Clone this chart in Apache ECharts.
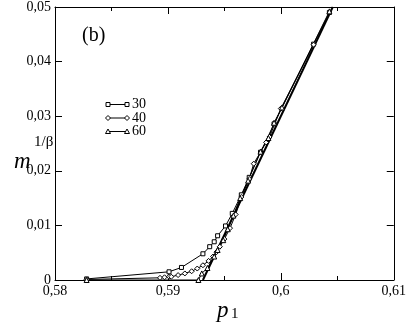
<!DOCTYPE html>
<html>
<head>
<meta charset="utf-8">
<script src="https://cdn.jsdelivr.net/npm/echarts@6/dist/echarts.min.js"></script>
<style>
  html, body { margin: 0; padding: 0; background: #fff; }
  #chart { width: 409px; height: 326px; }
</style>
</head>
<body>
<div id="chart"></div>
<script>
// values
const p30 = [0.5828, 0.5901, 0.5912, 0.5931, 0.5937, 0.5941, 0.5944, 0.5951, 0.5957, 0.5965, 0.5972, 0.5982, 0.5994, 0.6029, 0.6043]
const m30 = [0.0002, 0.0015, 0.0023, 0.0048, 0.0061, 0.0070, 0.0081, 0.0099, 0.0122, 0.0156, 0.0188, 0.0234, 0.0286, 0.0432, 0.0490]

const p40 = [0.5828, 0.5893, 0.5897, 0.5901, 0.5903, 0.5909, 0.5915, 0.5921, 0.5926, 0.5931, 0.5936, 0.5940, 0.5943, 0.5946, 0.5950, 0.5955, 0.5960, 0.5965, 0.5972, 0.5976, 0.5987, 0.5990, 0.6000, 0.6029]
const m40 = [0.0001, 0.0004, 0.0005, 0.0006, 0.0006, 0.0009, 0.0012, 0.0016, 0.0021, 0.0027, 0.0035, 0.0043, 0.0051, 0.0061, 0.0075, 0.0095, 0.0120, 0.0152, 0.0185, 0.0213, 0.0252, 0.0262, 0.0314, 0.0431]

const p60 = [0.5828, 0.5927, 0.5930, 0.5935, 0.5941, 0.5944, 0.5949, 0.5953, 0.5958, 0.5964, 0.5971, 0.5982, 0.5989, 0.5994, 0.6001, 0.6043]
const m60 = [0, 0, 0.0012, 0.0022, 0.0043, 0.0055, 0.0073, 0.0093, 0.0118, 0.0150, 0.0182, 0.0235, 0.0260, 0.0288, 0.0316, 0.0492]

// straight line through the collapse
const fitP = [0.5931, 0.6046]
const fitM = [0, 0.05]

const legendNames = ['30', '40', '60']

const FONT = '"Liberation Serif", "DejaVu Serif", serif'

const zip = (xs, ys) => xs.map((x, i) => [x, ys[i]])
const fmt = v => v === 0 ? '0' : String(+v.toFixed(3)).replace('.', ',')

const chart = echarts.init(document.getElementById('chart'))

const xBase = {
  type: 'value',
  min: 0.58,
  max: 0.61,
  interval: 0.01,
  splitLine: { show: false },
  axisLine: { show: true, onZero: false, lineStyle: { color: '#000', width: 1 } },
  axisTick: { show: true, inside: true, length: 7, lineStyle: { color: '#000' } },
  minorTick: { show: true, splitNumber: 2, length: 4, lineStyle: { color: '#000' } }
}
const yBase = {
  type: 'value',
  min: 0,
  max: 0.05,
  interval: 0.01,
  splitLine: { show: false },
  axisLine: { show: true, onZero: false, lineStyle: { color: '#000', width: 1 } },
  axisTick: { show: true, inside: true, length: 7, lineStyle: { color: '#000' } }
}

const lineSeries = (name, xs, ys, symbol, size) => ({
  name: name,
  type: 'line',
  data: zip(xs, ys),
  symbol: symbol,
  symbolSize: size,
  showAllSymbol: true,
  lineStyle: { color: '#000', width: 1 },
  itemStyle: { color: '#fff', borderColor: '#000', borderWidth: 1 },
  animation: false
})

// legend drawn by hand: line with a marker at each end
const legendSymbols = [
  { type: 'rect', shape: { x: -2, y: -2, width: 4, height: 4 } },
  { type: 'polygon', shape: { points: [[0, -2.5], [2.5, 0], [0, 2.5], [-2.5, 0]] } },
  { type: 'polygon', shape: { points: [[0, -2.5], [2.5, 2], [-2.5, 2]] } }
]
const legendGraphic = []
legendNames.forEach((n, i) => {
  const y = 104.5 + i * 13.5
  legendGraphic.push({ type: 'line', shape: { x1: 108, y1: y, x2: 127, y2: y }, style: { stroke: '#000', lineWidth: 1 } })
  ;[108, 127].forEach(x => {
    const s = legendSymbols[i]
    legendGraphic.push({ type: s.type, x: x, y: y, shape: s.shape, style: { fill: '#fff', stroke: '#000', lineWidth: 1 } })
  })
  legendGraphic.push({ type: 'text', x: 132, y: y, style: { text: n, font: '14px ' + FONT, fill: '#000', verticalAlign: 'middle' } })
})

const option = {
  animation: false,
  backgroundColor: '#fff',
  grid: { left: 55, right: 11, top: 6, bottom: 46, containLabel: false },
  xAxis: [
    Object.assign({}, xBase, {
      position: 'bottom',
      axisLabel: { show: true, color: '#000', fontSize: 14, fontFamily: FONT, margin: 4, formatter: fmt }
    }),
    Object.assign({}, xBase, { position: 'top', axisLabel: { show: false } })
  ],
  yAxis: [
    Object.assign({}, yBase, {
      position: 'left',
      axisLabel: { show: true, color: '#000', fontSize: 14, fontFamily: FONT, margin: 4, formatter: fmt }
    }),
    Object.assign({}, yBase, { position: 'right', axisLabel: { show: false } })
  ],
  series: [
    {
      name: 'fit',
      type: 'line',
      data: zip(fitP, fitM),
      symbol: 'none',
      lineStyle: { color: '#000', width: 2 },
      z: 1
    },
    lineSeries('30', p30, m30, 'rect', 4),
    lineSeries('40', p40, m40, 'diamond', 5),
    lineSeries('60', p60, m60, 'triangle', 5)
  ],
  graphic: [
    { type: 'text', left: 82, top: 26, style: { text: '(b)', font: '20px ' + FONT, fill: '#000' } },
    { type: 'text', x: 14, y: 150, style: { text: 'm', font: 'italic 23px ' + FONT, fill: '#000' } },
    { type: 'text', x: 34, y: 135, style: { text: '1/β', font: '15px ' + FONT, fill: '#000' } },
    { type: 'text', x: 217, y: 299, style: { text: 'p', font: 'italic 23px ' + FONT, fill: '#000' } },
    { type: 'text', x: 231, y: 307, style: { text: '1', font: '15px ' + FONT, fill: '#000' } }
  ].concat(legendGraphic)
}

chart.setOption(option)
</script>
</body>
</html>
